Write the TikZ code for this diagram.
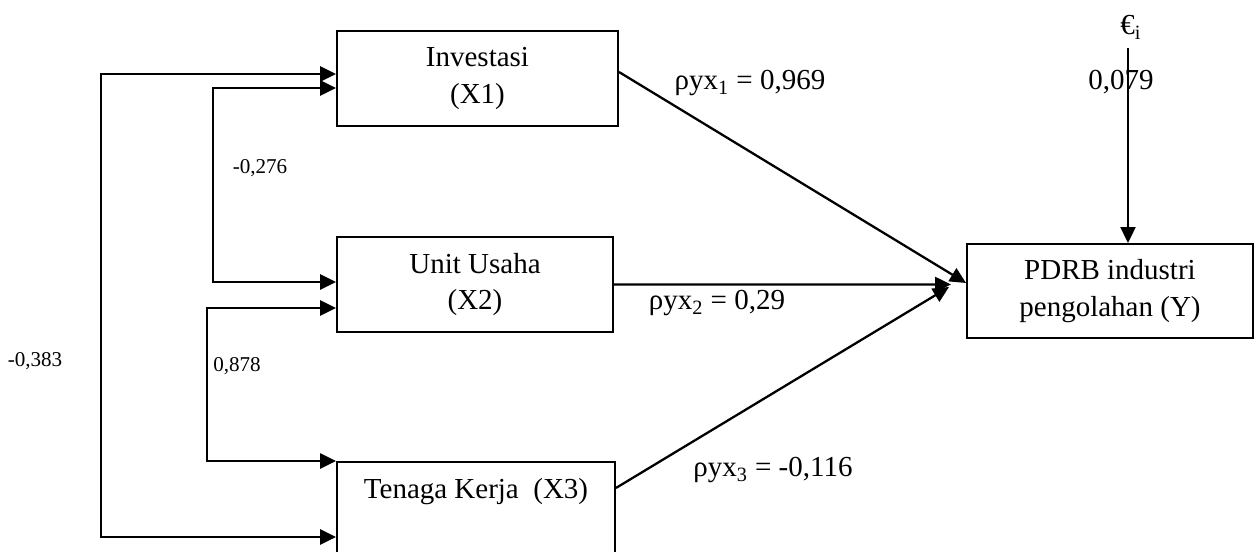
\documentclass[tikz,border=0pt]{standalone}
\usepackage{fontspec}
\setmainfont{Liberation Serif}
\usepackage{tikz}
\usetikzlibrary{arrows.meta, positioning, calc}

\tikzset{
  box/.style={draw, line width=1.1pt, align=center, minimum height=1.9cm,
              font=\fontsize{16.5}{21}\selectfont},
  link/.style={line width=1.3pt, -{Triangle[length=0.32cm,width=0.30cm]}},
  corr/.style={line width=1.5pt,
               {Triangle[length=0.32cm,width=0.30cm]}-{Triangle[length=0.32cm,width=0.30cm]}},
  coef/.style={font=\fontsize{16.5}{20}\selectfont},
  small/.style={font=\fontsize{12}{14}\selectfont}
}

\begin{document}
\begin{tikzpicture}

\useasboundingbox (0,0) rectangle (25.1,11.04);

%---------------- Variables ----------------%
\node[box, minimum width=5.62cm] (x1) at (9.55,9.47) {Investasi\\(X1)};
\node[box, minimum width=5.52cm] (x2) at (9.50,5.35) {Unit Usaha\\(X2)};
\node[box, minimum width=5.56cm] (x3) at (9.52,0.85) {Tenaga Kerja\ \ (X3)\\\phantom{(X3)}};
\node[box, minimum width=5.72cm, minimum height=1.88cm] (y) at (22.20,5.22) {PDRB industri\\pengolahan (Y)};

%---------------- Error term ----------------%
\node[coef, anchor=south, inner ysep=0.17cm] (eps) at (22.62,10.08) {€\textsubscript{i}};
\node[coef] (e1) at (22.42,9.40) {0,079};
\draw[link] ([xshift=-0.06cm]eps.south) -- ([xshift=0.36cm]y.north);

%---------------- Paths to Y ----------------%
\draw[link] ([yshift=0.13cm]x1.east) -- ([yshift=0.16cm]y.west);
\draw[link] (x2.east) -- ([xshift=-0.30cm,yshift=0.13cm]y.west);
\draw[link] ([yshift=0.43cm]x3.east) -- ([xshift=-0.34cm,yshift=0.08cm]y.west);

\node[coef] (c1) at (15.00,9.38) {ρyx\textsubscript{1} = 0,969};
\node[coef] (c2) at (14.34,4.98) {ρyx\textsubscript{2} = 0,29};
\node[coef] (c3) at (15.46,1.64) {ρyx\textsubscript{3} = -0,116};

%---------------- Correlations ----------------%
\draw[corr] ([yshift=0.09cm]x1.west) -| (2.02,4) |- ([yshift=-0.55cm]x3.west);
\draw[corr] ([yshift=-0.19cm]x1.west) -| (4.26,7) |- ([yshift=0.05cm]x2.west);
\draw[corr] ([yshift=-0.47cm]x2.west) -| (4.14,3) |- (x3.north west);

\node[small] (r12) at (5.20,7.68) {-0,276};
\node[small] (r23) at (4.74,3.72) {0,878};
\node[small] (r13) at (0.70,3.82) {-0,383};

\end{tikzpicture}
\end{document}
